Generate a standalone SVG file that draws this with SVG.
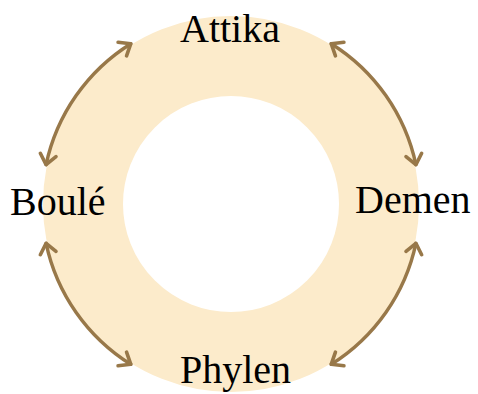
<svg xmlns="http://www.w3.org/2000/svg" width="478" height="394" viewBox="0 0 478 394">
<style>
.lbl{font-family:"Liberation Serif","Times New Roman",serif;font-size:40px;fill:#000}
.arc{fill:none;stroke:#987849;stroke-width:3.4;stroke-linecap:round;marker-start:url(#ah);marker-end:url(#ah)}
</style>
<defs>
<marker id="ah" markerUnits="userSpaceOnUse" markerWidth="28" markerHeight="28" viewBox="-14 -14 28 28" refX="0" refY="0" orient="auto-start-reverse">
<path d="M-10,-8 L0,0 L-10,8" fill="none" stroke="#987849" stroke-width="3.6" stroke-linecap="round" stroke-linejoin="round"/>
</marker>
</defs>
<rect width="478" height="394" fill="#fff"/>
<circle id="ring" cx="231" cy="204" r="148" fill="none" stroke="#FCEBCB" stroke-width="80"/>
<g id="connectors">
<path class="arc" d="M331.2,43.7 A189,189 0 0 1 415.9,164.7"/>
<path class="arc" d="M415.9,243.3 A189,189 0 0 1 331.2,364.3"/>
<path class="arc" d="M130.8,364.3 A189,189 0 0 1 46.1,243.3"/>
<path class="arc" d="M46.1,164.7 A189,189 0 0 1 130.8,43.7"/>
</g>
<g id="attika"><text class="lbl" x="230" y="42" text-anchor="middle">Attika</text></g>
<g id="demen"><text class="lbl" x="355" y="213">Demen</text></g>
<g id="phylen"><text class="lbl" x="180" y="383">Phylen</text></g>
<g id="boule"><text class="lbl" x="10" y="215">Boulé</text></g>
</svg>
